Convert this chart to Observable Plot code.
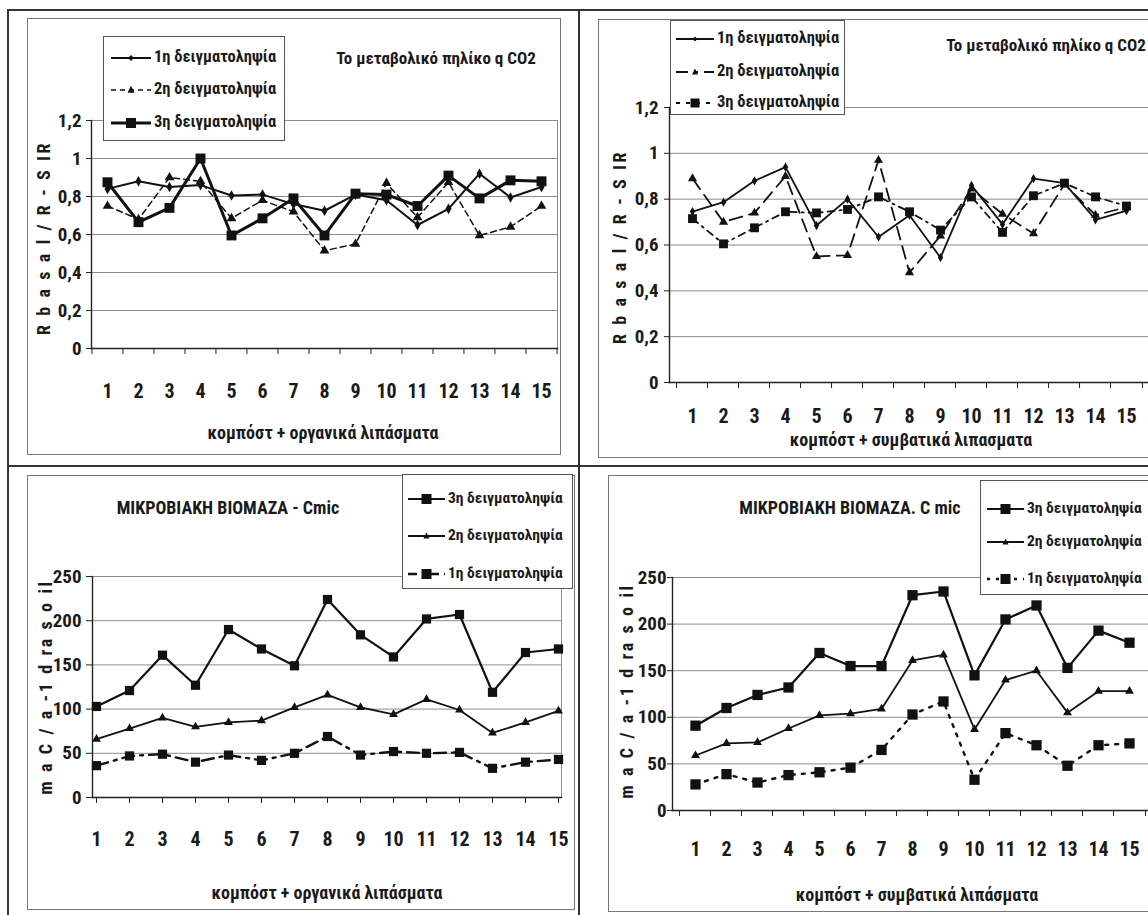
<!DOCTYPE html>
<html>
<head>
<meta charset="utf-8">
<script src="https://cdn.jsdelivr.net/npm/d3@7"></script>
<script src="https://cdn.jsdelivr.net/npm/@observablehq/plot@0.6"></script>
<style>
  body { margin: 0; background: #fff; }
  #page { position: relative; width: 1148px; height: 915px; overflow: hidden; background: #fff;
    font-family: "Liberation Sans Narrow", "Arial Narrow", "Roboto Condensed", "DejaVu Sans Condensed", sans-serif;
    font-weight: bold; color: #1a1a1a; }
  .frame { position: absolute; box-sizing: border-box; }
  .t { position: absolute; white-space: nowrap; transform: translate(-50%, -50%); line-height: 1; }
  .legend { position: absolute; box-sizing: border-box; border: 1px solid #555; background: #fff; z-index: 5; }
  .lrow { position: absolute; white-space: nowrap; line-height: 1; }
  svg.plot { position: absolute; z-index: 2; }
</style>
</head>
<body>
<div id="page"></div>
<script>
// ---------------- data ----------------
const categories = ["1","2","3","4","5","6","7","8","9","10","11","12","13","14","15"];
const sampleNames = ["1η δειγματοληψία", "2η δειγματοληψία", "3η δειγματοληψία"];
const qTicks = [0, 0.2, 0.4, 0.6, 0.8, 1, 1.2];
const cmicTicks = [0, 50, 100, 150, 200, 250];

// qCO2, compost + organic fertilisers
const qOrganic1 = [0.84, 0.88, 0.85, 0.86, 0.805, 0.81, 0.76, 0.725, 0.81, 0.78, 0.65, 0.735, 0.92, 0.795, 0.85];
const qOrganic2 = [0.75, 0.68, 0.90, 0.88, 0.685, 0.78, 0.72, 0.515, 0.55, 0.87, 0.69, 0.875, 0.595, 0.64, 0.75];
const qOrganic3 = [0.875, 0.665, 0.74, 1.0, 0.595, 0.685, 0.79, 0.595, 0.815, 0.81, 0.75, 0.91, 0.79, 0.885, 0.88];

// qCO2, compost + conventional fertilisers
const qConv1 = [0.746, 0.787, 0.88, 0.94, 0.685, 0.80, 0.635, 0.73, 0.545, 0.86, 0.69, 0.89, 0.87, 0.71, 0.75];
const qConv2 = [0.89, 0.70, 0.74, 0.90, 0.55, 0.555, 0.97, 0.48, 0.64, 0.845, 0.735, 0.65, 0.865, 0.73, 0.765];
const qConv3 = [0.715, 0.605, 0.675, 0.745, 0.74, 0.755, 0.81, 0.745, 0.665, 0.81, 0.655, 0.815, 0.87, 0.81, 0.77];

// Cmic, compost + organic fertilisers
const cmicOrg1 = [36, 47, 49, 40, 48, 42, 50, 69, 48, 52, 50, 51, 33, 40, 43];
const cmicOrg2 = [66, 78, 90, 80, 85, 87, 102, 116, 102, 94, 111, 99, 73, 85, 98];
const cmicOrg3 = [103, 121, 161, 127, 190, 168, 149, 224, 184, 159, 202, 207, 119, 164, 168];

// Cmic, compost + conventional fertilisers
const cmicConv1 = [28, 39, 30, 38, 41, 46, 65, 103, 117, 33, 83, 70, 48, 70, 72];
const cmicConv2 = [59, 72, 73, 88, 102, 104, 109, 161, 167, 87, 140, 150, 105, 128, 128];
const cmicConv3 = [91, 110, 124, 132, 169, 155, 155, 231, 235, 145, 205, 220, 153, 193, 180];

const titleQ = "Το μεταβολικό πηλίκο q CO2";
const titleCmicOrg = "ΜΙΚΡΟΒΙΑΚΗ ΒΙΟΜΑΖΑ - Cmic";
const titleCmicConv = "ΜΙΚΡΟΒΙΑΚΗ ΒΙΟΜΑΖΑ. C mic";
const xTitleOrg = "κομπόστ + οργανικά λιπάσματα";
const xTitleConv = "κομπόστ + συμβατικά λιπασματα";
const xTitleConv2 = "κομπόστ + συμβατικά λιπάσματα";
const yTitleQ = "R b a s a l / R - S IR";
const yTitleCmic = "m a C / a -1 d ra s o il";

// ---------------- helpers ----------------
const page = document.getElementById("page");
const FONT = '"Liberation Sans Narrow", "Arial Narrow", "Roboto Condensed", "DejaVu Sans Condensed", sans-serif';
const commaFmt = d => String(d).replace(".", ",");

function box(left, top, w, h, border) {
  const d = document.createElement("div");
  d.className = "frame";
  Object.assign(d.style, {left: left + "px", top: top + "px", width: w + "px", height: h + "px", border});
  page.appendChild(d);
}
function text(str, x, y, size, extra = "") {
  const d = document.createElement("div");
  d.className = "t";
  d.textContent = str;
  d.style.cssText += `left:${x}px;top:${y}px;font-size:${size}px;${extra}`;
  page.appendChild(d);
}

function drawPanel(cfg) {
  const {left, top, width, height, mT, mR, mB, mL, padding, yDomain, yTicks, yFmt,
         series, yTickSize, yTickPad, xTickPad, boundaryTicks} = cfg;
  const n = categories.length;
  const step = (width - mL - mR) / (n - 1 + 2 * padding);
  const marks = [
    Plot.gridY(yTicks, {stroke: "#8c8c8c", strokeOpacity: 1, strokeWidth: 1}),
    Plot.frame({anchor: "right", stroke: "#8c8c8c", strokeWidth: 1}),
    Plot.frame({anchor: "left", stroke: "#222", strokeWidth: 1.4}),
    Plot.frame({anchor: "bottom", stroke: "#222", strokeWidth: 1.4}),
    Plot.axisY(yTicks, {tickSize: yTickSize, tickPadding: yTickPad, tickFormat: yFmt,
      fontSize: 19, fontWeight: "bold", label: null, stroke: "#222"})
  ];
  if (boundaryTicks) {
    marks.push(Plot.axisX({tickSize: 0, tickPadding: xTickPad, fontSize: 20, fontWeight: "bold", label: null}));
    marks.push(Plot.axisX({tickSize: 6, tickFormat: () => "", dx: -step / 2, label: null, stroke: "#222"}));
    marks.push(Plot.axisX([categories[n - 1]], {tickSize: 6, tickFormat: () => "", dx: step / 2, label: null, stroke: "#222"}));
  } else {
    marks.push(Plot.axisX({tickSize: 6, tickPadding: xTickPad, fontSize: 20, fontWeight: "bold", label: null, stroke: "#222"}));
  }
  series.forEach(s => {
    const rows = s.values.map((v, j) => ({cat: categories[j], v}));
    marks.push(Plot.line(rows, {x: "cat", y: "v", stroke: "#111", strokeWidth: s.sw,
      strokeDasharray: s.dash, strokeLinejoin: "miter"}));
    marks.push(Plot.dot(rows, {x: "cat", y: "v", symbol: s.symbol, r: s.r, fill: "#111", stroke: "none"}));
  });
  const svg = Plot.plot({
    width, height, marginTop: mT, marginRight: mR, marginBottom: mB, marginLeft: mL,
    x: {type: "point", domain: categories, padding, label: null},
    y: {domain: yDomain, label: null},
    style: {fontFamily: FONT, fontWeight: "bold", color: "#1a1a1a", background: "transparent", overflow: "visible"},
    marks
  });
  svg.classList.add("plot");
  svg.style.left = left + "px";
  svg.style.top = top + "px";
  page.appendChild(svg);
}

function swatchSVG(w, sw, dash, symbol, s) {
  const c = w / 2, cy = 8;
  let m = "";
  if (symbol === "square") m = `<rect x="${c - s / 2}" y="${cy - s / 2}" width="${s}" height="${s}" fill="#111"/>`;
  else if (symbol === "triangle") m = `<path d="M${c},${cy - s * 0.6}L${c + s / 2},${cy + s * 0.4}L${c - s / 2},${cy + s * 0.4}Z" fill="#111"/>`;
  else if (symbol === "diamond") m = `<path d="M${c},${cy - s / 2}L${c + s / 2},${cy}L${c},${cy + s / 2}L${c - s / 2},${cy}Z" fill="#111"/>`;
  return `<svg width="${w}" height="16" style="vertical-align:middle;overflow:visible"><line x1="0" x2="${w}" y1="${cy}" y2="${cy}" stroke="#111" stroke-width="${sw}" ${dash ? `stroke-dasharray="${dash}"` : ""}/>${m}</svg>`;
}

function legend(left, top, w, h, fontSize, rows) {
  const lg = document.createElement("div");
  lg.className = "legend";
  Object.assign(lg.style, {left: left + "px", top: top + "px", width: w + "px", height: h + "px"});
  rows.forEach(r => {
    const row = document.createElement("div");
    row.className = "lrow";
    row.style.left = (r.x - left) + "px";
    row.style.top = (r.y - top - 10) + "px";
    row.style.fontSize = fontSize + "px";
    row.innerHTML = swatchSVG(r.w, r.sw, r.dash, r.symbol, r.s) + `<span style="margin-left:3px;vertical-align:middle">${r.label}</span>`;
    lg.appendChild(row);
  });
  page.appendChild(lg);
}

// ---------------- panel frames ----------------
box(7, 9, 1160, 920, "2px solid #333");
box(578, 9, 2, 910, "1px solid #333");
box(7, 465, 1150, 2, "1px solid #333");
box(27, 18, 534, 437, "1px solid #777");
box(598, 19, 570, 439, "1px solid #777");
box(27, 475, 548, 435, "1px solid #777");
box(608, 475, 570, 437, "1px solid #777");

const rot = "transform:translate(-50%,-50%) rotate(-90deg);letter-spacing:2.6px;";

// ---------------- top-left: qCO2 organic ----------------
drawPanel({
  left: 27, top: 18, width: 534, height: 437, mT: 102, mR: 4, mB: 107, mL: 64, padding: 0.5,
  yDomain: [0, 1.2], yTicks: qTicks, yFmt: commaFmt, yTickSize: 5, yTickPad: 5, xTickPad: 35, boundaryTicks: true,
  series: [
    {values: qOrganic1, sw: 2, dash: undefined, symbol: "diamond", r: 3.2},
    {values: qOrganic2, sw: 1.5, dash: "6,4", symbol: "triangle", r: 3.6},
    {values: qOrganic3, sw: 3, dash: undefined, symbol: "square", r: 5.6}
  ]
});
legend(103, 36, 182, 105, 16.5, [
  {x: 110, y: 58, w: 40, sw: 2, symbol: "diamond", s: 6, label: sampleNames[0]},
  {x: 110, y: 90, w: 40, sw: 1.5, dash: "5,4", symbol: "triangle", s: 7, label: sampleNames[1]},
  {x: 110, y: 123, w: 40, sw: 3, symbol: "square", s: 10, label: sampleNames[2]}
]);
text(titleQ, 436, 58, 17);
text(xTitleOrg, 323, 433, 18);
text(yTitleQ, 44, 238, 18, rot);

// ---------------- top-right: qCO2 conventional ----------------
drawPanel({
  left: 598, top: 19, width: 560, height: 439, mT: 88, mR: 10, mB: 76, mL: 71, padding: 0.5,
  yDomain: [0, 1.2], yTicks: qTicks, yFmt: commaFmt, yTickSize: 5, yTickPad: 6, xTickPad: 26, boundaryTicks: true,
  series: [
    {values: qConv1, sw: 1.8, dash: undefined, symbol: "diamond", r: 2.8},
    {values: qConv2, sw: 1.8, dash: "13,7", symbol: "triangle", r: 3.4},
    {values: qConv3, sw: 1.8, dash: "7,5,2,5", symbol: "square", r: 5}
  ]
});
legend(670, 20, 175, 95, 16.5, [
  {x: 675, y: 39, w: 38, sw: 1.8, symbol: "diamond", s: 5, label: sampleNames[0]},
  {x: 675, y: 72, w: 38, sw: 1.8, dash: "12,6,4,6", symbol: "triangle", s: 6, label: sampleNames[1]},
  {x: 675, y: 103, w: 38, sw: 1.8, dash: "4,6", symbol: "square", s: 9, label: sampleNames[2]}
]);
text(titleQ, 1046, 45, 17);
text(xTitleConv, 911, 440, 18);
text(yTitleQ, 620, 247, 18, rot);

// ---------------- bottom-left: Cmic organic ----------------
drawPanel({
  left: 27, top: 475, width: 548, height: 435, mT: 101, mR: 14, mB: 113, mL: 65, padding: 0,
  yDomain: [0, 250], yTicks: cmicTicks, yFmt: d => String(d), yTickSize: 6, yTickPad: 5, xTickPad: 28, boundaryTicks: false,
  series: [
    {values: cmicOrg3, sw: 2.2, dash: undefined, symbol: "square", r: 5.2},
    {values: cmicOrg2, sw: 1.8, dash: undefined, symbol: "triangle", r: 3.3},
    {values: cmicOrg1, sw: 2.4, dash: "12,6,3,6", symbol: "square", r: 5.2}
  ]
});
legend(402, 474, 171, 115, 15.5, [
  {x: 407, y: 500, w: 37, sw: 2, symbol: "square", s: 10, label: sampleNames[2]},
  {x: 407, y: 537, w: 37, sw: 1.8, symbol: "triangle", s: 6, label: sampleNames[1]},
  {x: 407, y: 575, w: 37, sw: 2.4, dash: "9,5,3,5", symbol: "square", s: 10, label: sampleNames[0]}
]);
text(titleCmicOrg, 228, 508, 18);
text(xTitleOrg, 327, 893, 18);
text(yTitleCmic, 46, 687, 18, rot);

// ---------------- bottom-right: Cmic conventional ----------------
drawPanel({
  left: 608, top: 475, width: 560, height: 437, mT: 102, mR: 17, mB: 102, mL: 64, padding: 0.5,
  yDomain: [0, 250], yTicks: cmicTicks, yFmt: d => String(d), yTickSize: 5, yTickPad: 1, xTickPad: 31, boundaryTicks: true,
  series: [
    {values: cmicConv3, sw: 2.2, dash: undefined, symbol: "square", r: 5.8},
    {values: cmicConv2, sw: 1.8, dash: undefined, symbol: "triangle", r: 3.3},
    {values: cmicConv1, sw: 2.4, dash: "3,7", symbol: "square", r: 5.8}
  ]
});
legend(980, 480, 180, 115, 15.5, [
  {x: 986, y: 510, w: 37, sw: 2, symbol: "square", s: 10, label: sampleNames[2]},
  {x: 986, y: 543, w: 37, sw: 1.8, symbol: "triangle", s: 6, label: sampleNames[1]},
  {x: 986, y: 580, w: 37, sw: 2.4, dash: "3,6", symbol: "square", s: 10, label: sampleNames[0]}
]);
text(titleCmicConv, 850, 508, 18);
text(xTitleConv2, 917, 895, 18);
text(yTitleCmic, 627, 691, 18, rot);
</script>
</body>
</html>
